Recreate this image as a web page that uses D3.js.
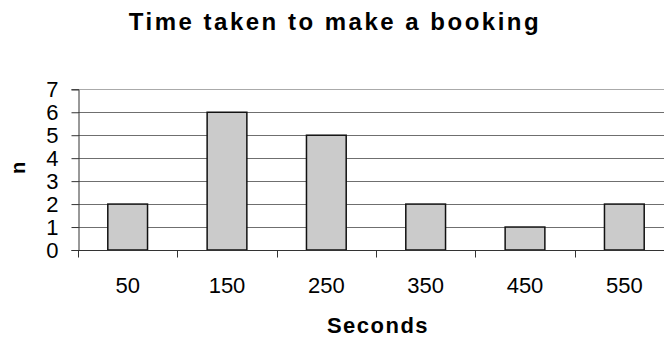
<!DOCTYPE html>
<html>
<head>
<meta charset="utf-8">
<script src="https://cdn.jsdelivr.net/npm/d3@7"></script>
<style>
  html, body { margin: 0; padding: 0; background: #fff; }
  svg { display: block; font-family: "Liberation Sans", Arial, sans-serif; }
</style>
</head>
<body>
<svg id="chart" width="664" height="337"></svg>
<script>
// Booking duration histogram: bin centres (seconds) and counts
const categories = ["50", "150", "250", "350", "450", "550"];
const counts = [2, 6, 5, 2, 1, 2];
const yTicks = [0, 1, 2, 3, 4, 5, 6, 7];

const svg = d3.select("#chart");
const plot = { left: 78, right: 674, top: 89.3, bottom: 250 };

const x = d3.scaleBand()
  .domain(categories)
  .range([plot.left, plot.right])
  .paddingInner(0.6)
  .paddingOuter(0.3);

const y = d3.scaleLinear()
  .domain([0, 7])
  .range([plot.bottom, plot.top]);

// Horizontal gridlines
svg.append("g")
  .selectAll("line")
  .data(yTicks.slice(1))
  .join("line")
  .attr("x1", plot.left)
  .attr("x2", plot.right)
  .attr("y1", d => Math.round(y(d)) + 0.5)
  .attr("y2", d => Math.round(y(d)) + 0.5)
  .attr("stroke", d => d === 7 ? "#aaa" : "#6f6f6f")
  .attr("stroke-width", 1);

// Bars
svg.append("g")
  .selectAll("rect")
  .data(counts)
  .join("rect")
  .attr("x", (d, i) => x(categories[i]))
  .attr("y", d => y(d))
  .attr("width", x.bandwidth())
  .attr("height", d => y(0) - y(d))
  .attr("fill", "#cbcbcb")
  .attr("stroke", "#111")
  .attr("stroke-width", 1.5);

// Y axis
const yAxis = svg.append("g")
  .attr("transform", `translate(${plot.left + 0.5},0)`)
  .call(d3.axisLeft(y).tickValues(yTicks).tickSize(7).tickPadding(13).tickFormat(d3.format("d")));
yAxis.select(".domain").attr("stroke", "#333");
yAxis.selectAll(".tick line").attr("stroke", "#333");
yAxis.selectAll("text")
  .attr("font-size", 22)
  .attr("fill", "#000")
  .attr("font-family", "Liberation Sans, Arial, sans-serif");

// X axis: labels at band centres, tick marks between categories
const xAxis = svg.append("g")
  .attr("transform", `translate(0,${plot.bottom + 0.5})`)
  .call(d3.axisBottom(x).tickSize(0).tickPadding(27));
xAxis.select(".domain").remove();
xAxis.append("line")
  .attr("x1", plot.left).attr("x2", plot.right)
  .attr("stroke", "#333");
xAxis.selectAll("text")
  .attr("font-size", 22)
  .attr("fill", "#000")
  .attr("font-family", "Liberation Sans, Arial, sans-serif");
const boundaries = d3.range(categories.length + 1).map(i => plot.left + i * x.step());
xAxis.selectAll(".sep")
  .data(boundaries)
  .join("line")
  .attr("class", "sep")
  .attr("x1", d => Math.round(d) + 0.5)
  .attr("x2", d => Math.round(d) + 0.5)
  .attr("y1", 0)
  .attr("y2", 7)
  .attr("stroke", "#333");

// Title and axis titles
svg.append("text")
  .attr("x", 335)
  .attr("y", 30)
  .attr("text-anchor", "middle")
  .attr("font-size", 24)
  .attr("font-weight", "bold")
  .attr("letter-spacing", 2.5)
  .text("Time taken to make a booking");

svg.append("text")
  .attr("x", 378)
  .attr("y", 333)
  .attr("text-anchor", "middle")
  .attr("font-size", 22)
  .attr("font-weight", "bold")
  .attr("letter-spacing", 1.5)
  .text("Seconds");

svg.append("text")
  .attr("transform", "translate(25,168) rotate(-90)")
  .attr("text-anchor", "middle")
  .attr("font-size", 20)
  .attr("font-weight", "bold")
  .text("n");
</script>
</body>
</html>
